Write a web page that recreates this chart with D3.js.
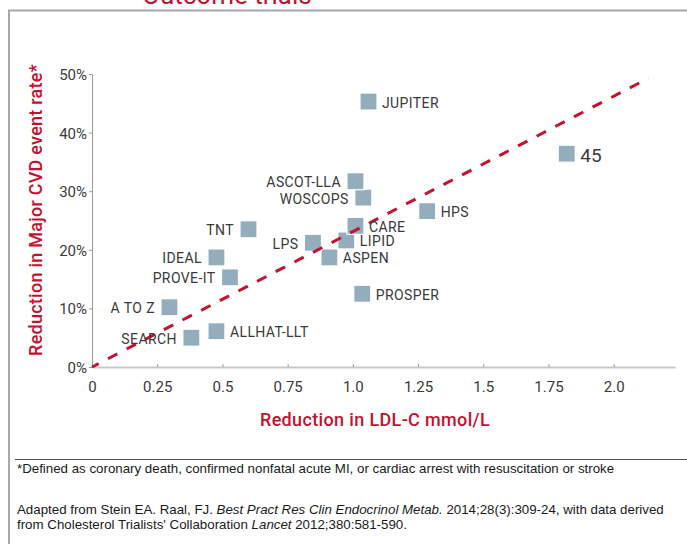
<!DOCTYPE html>
<html><head><meta charset="utf-8">
<script src="https://cdn.jsdelivr.net/npm/d3@7/dist/d3.min.js"></script>
<style>
html,body{margin:0;padding:0;background:#fff;}
svg{display:block;}
</style></head>
<body>
<svg id="chart" width="687" height="544"></svg>
<script>
// ---- data ----
const trials = ["JUPITER","45","WOSCOPS","ASCOT-LLA","HPS","LIPID","CARE","ASPEN","LPS","PROSPER","TNT","IDEAL","PROVE-IT","A TO Z","SEARCH","ALLHAT-LLT"];
const ldlReduction = [1.06, 1.82, 1.04, 1.01, 1.285, 0.975, 1.01, 0.91, 0.847, 1.036, 0.60, 0.477, 0.529, 0.297, 0.381, 0.477];
const cvdReduction = [45.3, 36.4, 28.9, 31.7, 26.6, 21.6, 24.1, 18.7, 21.2, 12.5, 23.5, 18.7, 15.3, 10.2, 5.0, 6.1];
const labelSide = ["r","r","l","l","r","r","r","r","l","r","l","l","l","l","l","r"];
const xTicks = [0, 0.25, 0.5, 0.75, 1.0, 1.25, 1.5, 1.75, 2.0];
const xTickLabels = ["0","0.25","0.5","0.75","1.0","1.25","1.5","1.75","2.0"];
const yTicks = [0, 10, 20, 30, 40, 50];
const yTickLabels = ["0%","10%","20%","30%","40%","50%"];
const trendLine = [[0, 0], [2.134, 49.3]];

const svg = d3.select("#chart");
const RED = "#c4122f";
const FONT = "Roboto, 'DejaVu Sans', sans-serif";

// frame
svg.append("path").attr("d","M9,544 V10.5 H687").attr("fill","none").attr("stroke","#a8a8aa").attr("stroke-width",2);
// title (cut off at top, as in the reference)
svg.append("text").attr("x",142).attr("y",4).attr("fill",RED)
  .attr("font-family",FONT).attr("font-size",26).text("Outcome trials");

const x = d3.scaleLinear().domain([0, 2.235]).range([92, 675]);
const y = d3.scaleLinear().domain([0, 50]).range([367, 74]);

// x axis
const gx = svg.append("g").attr("transform","translate(0,367)")
  .call(d3.axisBottom(x).tickValues(xTicks).tickFormat((d,i)=>xTickLabels[i]).tickSize(-3).tickSizeOuter(0).tickPadding(0));
gx.select(".domain").attr("stroke","#c8c8c8").attr("stroke-width",2);
gx.selectAll(".tick line").attr("stroke","#999");
gx.selectAll(".tick text").attr("font-family",FONT).attr("font-size",15).attr("fill","#3a3a3a")
  .attr("y",25).attr("dy",0);

// y axis
const gy = svg.append("g").attr("transform","translate(92,0)")
  .call(d3.axisLeft(y).tickValues(yTicks).tickFormat((d,i)=>yTickLabels[i]).tickSize(3).tickSizeOuter(0).tickPadding(2));
gy.select(".domain").attr("stroke","#9a9a9a").attr("stroke-width",1);
gy.selectAll(".tick line").attr("stroke","#999");
gy.selectAll(".tick text").attr("font-family",FONT).attr("font-size",15).attr("fill","#3a3a3a").attr("dy","0.36em");

// axis titles
svg.append("text").attr("x",375).attr("y",426).attr("text-anchor","middle")
  .attr("font-family",FONT).attr("font-size",18).attr("font-weight",500).attr("letter-spacing",0.35).attr("fill",RED)
  .text("Reduction in LDL-C mmol/L");
svg.append("text").attr("transform","translate(42,210) rotate(-90)").attr("text-anchor","middle")
  .attr("font-family",FONT).attr("font-size",18).attr("font-weight",500).attr("letter-spacing",0.25).attr("fill",RED)
  .text("Reduction in Major CVD event rate*");

// points
const S = 17;
const pts = trials.map((t,i)=>({name:t, x:ldlReduction[i], y:cvdReduction[i], side:labelSide[i]}));
const gp = svg.append("g");
gp.selectAll("rect").data(pts).enter().append("rect")
  .attr("x",d=>x(d.x)-S/2).attr("y",d=>y(d.y)-S/2).attr("width",S).attr("height",S)
  .attr("fill","#94adbc").attr("stroke","#fff").attr("stroke-width",1.2);

// trend line
svg.append("line")
  .attr("x1",x(trendLine[0][0])).attr("y1",y(trendLine[0][1]))
  .attr("x2",x(trendLine[1][0])).attr("y2",y(trendLine[1][1]))
  .attr("stroke",RED).attr("stroke-width",3).attr("stroke-dasharray","10.5,10.5").attr("stroke-dashoffset",3);

// labels
svg.append("g").selectAll("text").data(pts).enter().append("text")
  .attr("x",d=> d.side==="r" ? x(d.x)+S/2+5 : x(d.x)-S/2-6)
  .attr("y",d=>y(d.y)+1).attr("dy","0.36em")
  .attr("text-anchor",d=>d.side==="r"?"start":"end")
  .attr("font-family",FONT).attr("font-size",d=>d.name==="45"?19:14).attr("fill","#3a3a3a")
  .attr("letter-spacing",d=>d.name==="45"?0:0.4)
  .text(d=>d.name);

// footnotes
svg.append("line").attr("x1",15).attr("x2",687).attr("y1",459.5).attr("y2",459.5).attr("stroke","#555").attr("stroke-width",1);
const FN = "'Liberation Sans', Arial, sans-serif";
const FS = 13.3;
svg.append("text").attr("x",17).attr("y",472.5).attr("font-family",FN).attr("font-size",FS).attr("fill","#1a1a1a")
  .text("*Defined as coronary death, confirmed nonfatal acute MI, or cardiac arrest with resuscitation or stroke");
const t2 = svg.append("text").attr("x",17).attr("y",514).attr("font-family",FN).attr("font-size",FS).attr("fill","#1a1a1a");
t2.append("tspan").text("Adapted from Stein EA. Raal, FJ. ");
t2.append("tspan").attr("font-style","italic").text("Best Pract Res Clin Endocrinol Metab.");
t2.append("tspan").text(" 2014;28(3):309-24, with data derived");
const t3 = svg.append("text").attr("x",17).attr("y",529).attr("font-family",FN).attr("font-size",FS).attr("fill","#1a1a1a");
t3.append("tspan").text("from Cholesterol Trialists' Collaboration ");
t3.append("tspan").attr("font-style","italic").text("Lancet");
t3.append("tspan").text(" 2012;380:581-590.");
</script>
</body></html>
